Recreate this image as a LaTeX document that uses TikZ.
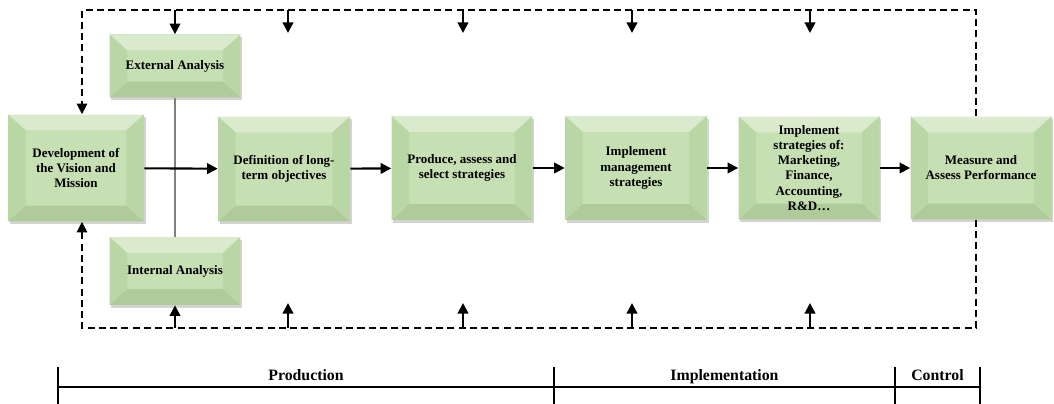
\documentclass[tikz,border=0pt]{standalone}
\usepackage{fontspec}
\setmainfont{Liberation Serif}
\usetikzlibrary{positioning,calc,arrows.meta,shadows}

\definecolor{boxmid}{HTML}{C6E0B4}
\definecolor{boxtop}{HTML}{D9EBCC}
\definecolor{boxside}{HTML}{B9D6A5}
\definecolor{boxbot}{HTML}{AECB99}

\begin{document}
\begin{tikzpicture}[x=0.02cm,y=-0.02cm]
        \tikzstyle{bevbox}=[rectangle, fill=boxmid, align=center, inner sep=2pt,
            font=\fontsize{7.4}{8.6}\selectfont\bfseries,
            drop shadow={shadow xshift=1pt, shadow yshift=-1.6pt, opacity=0.35},
            path picture={
              \fill[boxtop] (path picture bounding box.north west) -- (path picture bounding box.north east)
                -- ([shift={(-10pt,-9pt)}]path picture bounding box.north east) -- ([shift={(10pt,-9pt)}]path picture bounding box.north west) -- cycle;
              \fill[boxbot] (path picture bounding box.south west) -- (path picture bounding box.south east)
                -- ([shift={(-10pt,9pt)}]path picture bounding box.south east) -- ([shift={(10pt,9pt)}]path picture bounding box.south west) -- cycle;
              \fill[boxside] (path picture bounding box.north west) -- ([shift={(10pt,-9pt)}]path picture bounding box.north west)
                -- ([shift={(10pt,9pt)}]path picture bounding box.south west) -- (path picture bounding box.south west) -- cycle;
              \fill[boxside] (path picture bounding box.north east) -- ([shift={(-10pt,-9pt)}]path picture bounding box.north east)
                -- ([shift={(-10pt,9pt)}]path picture bounding box.south east) -- (path picture bounding box.south east) -- cycle;
            }]
        \tikzstyle{flow}=[line width=1.2pt, -{Triangle[length=6pt,width=6pt]}]
        \tikzstyle{loop}=[line width=0.8pt, dash pattern=on 4pt off 2.4pt]
        \tikzstyle{phase}=[font=\fontsize{9}{10}\selectfont\bfseries, anchor=base]

        \useasboundingbox (0,0) rectangle (1054,404);

        % main boxes
        \node[bevbox, minimum width=2.72cm, minimum height=2.14cm] (dev)  at (76,168)  {Development of\\the Vision and\\Mission};
        \node[bevbox, minimum width=2.62cm, minimum height=1.26cm] (ext)  at (175,66)  {External Analysis};
        \node[bevbox, minimum width=2.62cm, minimum height=1.36cm] (int)  at (175,271) {Internal Analysis};
        \node[bevbox, minimum width=2.64cm, minimum height=2.10cm] (obj)  at (284,169) {Definition of long-\\term objectives};
        \node[bevbox, minimum width=2.82cm, minimum height=2.08cm] (sel)  at (462,168) {Produce, assess and\\select strategies};
        \node[bevbox, minimum width=2.84cm, minimum height=2.08cm] (man)  at (636,168) {Implement\\management\\strategies};
        \node[bevbox, minimum width=2.82cm, minimum height=2.06cm] (fun)  at (809,168) {Implement\\strategies of:\\Marketing,\\Finance,\\Accounting,\\R\&D\ldots};
        \node[bevbox, minimum width=2.82cm, minimum height=2.06cm] (meas) at (981,168) {Measure and\\Assess Performance};

        % flow
        \draw[gray, line width=0.8pt] (ext) -- (int);
        \draw[flow] (dev) -- (obj);
        \draw[flow] (obj) -- (sel);
        \draw[flow] (sel) -- (man);
        \draw[flow] (man) -- (fun);
        \draw[flow] (fun) -- (meas);

        % feedback loop
        \coordinate (tl) at (82,10);
        \coordinate (tr) at (976,10);
        \coordinate (bl) at (82,328);
        \coordinate (br) at (976,328);
        \draw[loop, -{Triangle[length=6pt,width=6pt]}] (meas.north -| tr) -- (tr) -- (tl) -- (tl |- dev.north);
        \draw[loop, -{Triangle[length=6pt,width=6pt]}] (meas.south -| br) -- (br) -- (bl) -- (bl |- dev.south);

        \draw[flow] (tl -| ext.north) -- (ext.north);
        \draw[flow] (bl -| int.south) -- (int.south);
        \foreach \x [count=\i] in {288,463,632,810} {
          \coordinate (d\i) at (\x,33);
          \coordinate (u\i) at (\x,303);
          \draw[flow] (d\i |- tl) -- (d\i);
          \draw[flow] (u\i |- bl) -- (u\i);
        }

        % phases
        \coordinate (p0) at (58,387);
        \coordinate (p1) at (554,387);
        \coordinate (p2) at (895,387);
        \coordinate (p3) at (980,387);
        \draw[line width=1.2pt] (p0) -- (p3);
        \foreach \p in {p0,p1,p2,p3}
          \draw[line width=1pt] ($(\p)+(0,-20)$) -- ($(\p)+(0,17)$);
        \node[phase] (prod) at ($(p0)!0.5!(p1)+(0,-6)$) {Production};
        \node[phase] (impl) at ($(p1)!0.5!(p2)+(0,-6)$) {Implementation};
        \node[phase] (ctrl) at ($(p2)!0.5!(p3)+(0,-6)$) {Control};

    \end{tikzpicture}
\end{document}
